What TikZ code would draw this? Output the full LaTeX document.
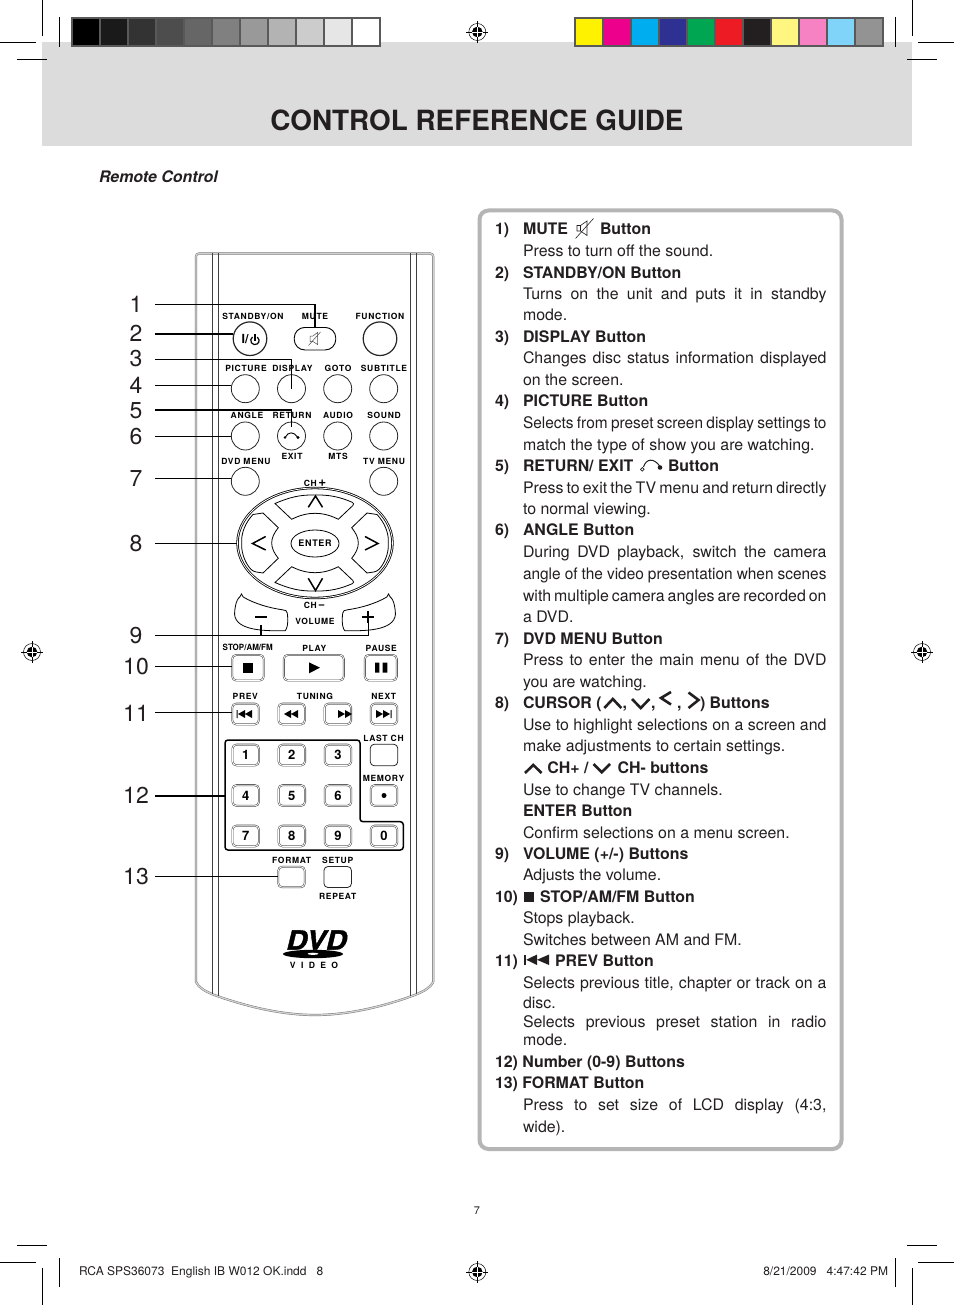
\documentclass[tikz,border=0pt]{standalone}
\usepackage{fontspec}
\setmainfont{TeX Gyre Heros}
\newfontfamily\remf[LetterSpace=8]{TeX Gyre Heros}
\newfontfamily\vidf[LetterSpace=62]{TeX Gyre Heros}
\newfontfamily\dvdf[FakeBold=1.4,FakeSlant=.22]{TeX Gyre Heros Bold}
\usetikzlibrary{shapes.geometric,calc}
\definecolor{ink}{HTML}{231F20}
\definecolor{band}{HTML}{DCDCDC}
\definecolor{barline}{HTML}{595959}
\definecolor{panel}{HTML}{B5B5B5}
\newcounter{lc}
\newcommand\rmk[1]{\fontsize{#1}{#1}\selectfont}
\tikzset{
 txt/.style={anchor=base west,inner sep=0pt,outer sep=0pt,text=ink,font=\rmk{15.9}},
 bold/.style={txt,font=\rmk{15.9}\bfseries},
 rlab/.style={inner sep=0pt,outer sep=0pt,yshift=-.7pt,font=\rmk{8.5}\bfseries\remf},
 numlab/.style={inner sep=0pt,outer sep=0pt,font=\rmk{23},text=ink},
 leader/.style={line width=1.4pt,draw=black},
 circ/.style={circle,draw=black!85,line width=.8pt,minimum size=28pt,inner sep=0pt,outer sep=0pt},
 bigcirc/.style={circ,line width=1.2pt,minimum size=33.6pt},
 dbtn/.style={rectangle,rounded corners=4pt,draw=black!70,line width=.55pt,double=white,double distance=.8pt,inner sep=0pt,outer sep=.5pt},
 numb/.style={dbtn,minimum width=26.5pt,minimum height=20.7pt,font=\rmk{13}\bfseries},
 chev/.style={line width=2.6pt,draw=ink,line join=miter},
 rchev/.style={line width=1.5pt,draw=black,line join=miter},
 crop/.style={line width=.7pt,draw=black},
 cell/.style={draw=barline,line width=2pt},
 rim/.style={draw=black!55,line width=.45pt,double=black!18,double distance=1.3pt},
 rail/.style={draw=black!75,line width=.8pt},
 dpad/.style={draw=black,line width=.8pt,rounded corners=3pt},
}
\newcommand\hdline[3]{\stepcounter{lc}\node[bold] (LN\arabic{lc}) at (495,#1+5.9) {#2};\stepcounter{lc}\node[bold] (LT\arabic{lc}) at (523,#1+5.9) {#3};}
\newcommand\hdat[3]{\stepcounter{lc}\node[bold] (LB\arabic{lc}) at (#2,#1+5.9) {#3};}
\newcommand\bdline[2]{\stepcounter{lc}\node[txt] (LP\arabic{lc}) at (523,#1+5.9) {#2};}
\newcommand\jsline[2]{\stepcounter{lc}\node[txt] (LJ\arabic{lc}) at (523,#1+5.9) {\hbox to 303.5pt{\spaceskip=.278em plus 1.2em minus .2em\relax #2}};}
\newcommand\jscond[2]{\stepcounter{lc}\node[txt] (LJ\arabic{lc}) at (523,#1+5.9) {\scalebox{.97}[1]{\hbox to 312.9pt{\spaceskip=.278em plus 1.2em minus .2em\relax #2}}};}
\newcommand\regmark[3]{%
 \node[circle,draw=black,line width=.5pt,minimum size=17pt,inner sep=0pt] (#1) at (#2,#3) {};
 \fill[black] (#1.center) circle (5.3pt);
 \draw[white,line width=.5pt] (#2-5.3,#3) -- (#2+5.3,#3) (#2,#3-5.3) -- (#2,#3+5.3);
 \draw[black,line width=.6pt] (#2-11,#3) -- (#2-5.3,#3) (#2+5.3,#3) -- (#2+11,#3) (#2,#3-11) -- (#2,#3-5.3) (#2,#3+5.3) -- (#2,#3+11);
}
\begin{document}
\begin{tikzpicture}[x=1pt,y=-1pt]
\useasboundingbox (0,0) rectangle (954,1305);
\fill[white] (0,0) rectangle (954,1305);
% band
\fill[band] (42,42) rectangle (912,146);
% crop marks
\draw[crop] (42.5,0) -- (42.5,36) (0,42.5) -- (36,42.5) (59.3,17) -- (59.3,47) (17,59.3) -- (47,59.3);
\draw[crop] (912.3,0) -- (912.3,36) (918,42.5) -- (954,42.5) (895.3,17) -- (895.3,47) (907,59.3) -- (937,59.3);
\draw[crop] (17,1245.5) -- (47,1245.5) (0,1262.5) -- (36,1262.5) (42.5,1268) -- (42.5,1305) (59.3,1258) -- (59.3,1287);
\draw[crop] (907,1245.5) -- (937,1245.5) (918,1262.5) -- (954,1262.5) (912.3,1268) -- (912.3,1305) (895.3,1258) -- (895.3,1287);
% colour bars
\foreach \c [count=\i from 0] in {000000,1A1A1A,333333,4D4D4D,666666,808080,999999,B3B3B3,CCCCCC,E6E6E6,FFFFFF}{
 \definecolor{cc}{HTML}{\c}
 \path[cell,fill=cc] (72+\i*28,18) rectangle (72+\i*28+28,46);
}
\foreach \c [count=\i from 0] in {FFF200,EC008C,00AEEF,2E3192,00A651,ED1C24,231F20,FFF681,F682C4,80D4F9,939393}{
 \definecolor{cc}{HTML}{\c}
 \path[cell,fill=cc] (575.3+\i*28,18) rectangle (575.3+\i*28+28,46);
}
\regmark{rt}{477.3}{32}
\regmark{rl}{32}{652}
\regmark{rr}{922}{652}
\regmark{rb}{477.3}{1272}
% titles
\node[inner sep=0pt,font=\rmk{27.85}\bfseries,text=ink,anchor=base] (title) at (477,131) {CONTROL REFERENCE GUIDE};
\node[txt,font=\rmk{15.9}\bfseries\itshape] (sub) at (99,183) {Remote Control};
\node[inner sep=0pt,font=\rmk{11},text=ink] (pg) at (477,1211) {7};
\node[txt,font=\rmk{12}] (foot1) at (79,1275.5) {RCA SPS36073\ \ English IB W012 OK.indd\ \ \ 8};
\node[txt,font=\rmk{12},anchor=base east] (foot2) at (888,1275.5) {8/21/2009\ \ \ 4:47:42 PM};
% panel
\draw[panel,line width=4pt,rounded corners=9pt] (479.5,210.5) rectangle (841.5,1149);
% panel text
\hdline{229}{1)}{MUTE}
\hdat{229}{600}{Button}
\begin{scope}[line width=.6pt,draw=ink]
 \draw[ink] (577,225.5) -- (580.5,225.5) -- (587,221) -- (587,235.5) -- (580.5,231) -- (577,231) -- cycle (580.5,225.5) -- (580.5,231);
 \draw[ink] (575.5,238.5) -- (593.5,218.5);
\end{scope}
\bdline{251}{Press to turn off the sound.}
\hdline{273}{2)}{STANDBY/ON Button}
\jsline{294}{Turns on the unit and puts it in standby}
\bdline{315}{mode.}
\hdline{337}{3)}{DISPLAY Button}
\jsline{358}{Changes disc status information displayed}
\bdline{380}{on the screen.}
\hdline{401}{4)}{PICTURE Button}
\jscond{423}{Selects from preset screen display settings to}
\bdline{445}{match the type of show you are watching.}
\hdline{466}{5)}{RETURN/ EXIT}
\hdat{466}{668}{Button}
\draw[ink,line width=1pt] (643.5,467) .. controls (646,458.5) and (654,457.5) .. (660,466.5);
\draw[ink,line width=.7pt] (642.3,469.3) circle (1.8pt);
\fill[ink] (660,467.5) circle (2.3pt);
\jsline{488}{Press to exit the TV menu and return directly}
\bdline{509}{to normal viewing.}
\hdline{530}{6)}{ANGLE Button}
\jsline{552}{During DVD playback, switch the camera}
\jscond{574}{angle of the video presentation when scenes}
\jsline{596}{with multiple camera angles are recorded on}
\bdline{617}{a DVD.}
\hdline{639}{7)}{DVD MENU Button}
\jsline{660}{Press to enter the main menu of the DVD}
\bdline{682}{you are watching.}
\hdline{703}{8)}{CURSOR (}
\hdat{703}{622.5}{,}
\hdat{703}{651}{,}
\hdat{703}{677}{,}
\hdat{703}{700}{) Buttons}
\draw[chev] (604.3,708) -- (612.8,699) -- (621.3,708);
\draw[chev] (632,699) -- (640.7,708) -- (649.5,699);
\draw[chev] (671,692) -- (661,698) -- (671,704.5);
\draw[chev] (688.5,692.5) -- (698.5,700) -- (688.5,708);
\jsline{725}{Use to highlight selections on a screen and}
\bdline{746}{make adjustments to certain settings.}
\draw[chev] (525,773) -- (533.3,765) -- (541.5,773);
\draw[chev] (593.5,764) -- (601.7,772.3) -- (610,764);
\hdat{768}{547.3}{CH+ /}
\hdat{768}{617.5}{CH- buttons}
\bdline{790}{Use to change TV channels.}
\hdat{811}{523}{ENTER Button}
\bdline{833}{Confirm selections on a menu screen.}
\hdline{854}{9)}{VOLUME (+/-) Buttons}
\bdline{875}{Adjusts the volume.}
\hdat{897}{495}{10)}
\fill[ink] (524.3,892) rectangle (534.3,902);
\hdat{897}{540}{STOP/AM/FM Button}
\bdline{918}{Stops playback.}
\bdline{940}{Switches between AM and FM.}
\hdat{961}{495}{11)}
\fill[ink] (524,954.5) rectangle (526.3,965);
\fill[ink] (526.3,959.8) -- (537,954.5) -- (537,965) -- cycle;
\fill[ink] (537,959.8) -- (549,954.5) -- (549,965) -- cycle;
\hdat{961}{555}{PREV Button}
\jsline{983}{Selects previous title, chapter or track on a}
\bdline{1003}{disc.}
\jsline{1022}{Selects previous preset station in radio}
\bdline{1040}{mode.}
\hdat{1062}{495}{12) Number (0-9) Buttons}
\hdat{1083}{495}{13) FORMAT Button}
\jsline{1105}{Press to set size of LCD display (4:3,}
\bdline{1127}{wide).}
% remote body
\draw[rim,rounded corners=3pt] (196,982) -- (196,253.5) -- (433.3,253.5) -- (433.3,982);
\draw[rim] (196,982) .. controls (199,988) and (205,991) .. (213,994.5) .. controls (250,1008) and (285,1015) .. (315,1015) .. controls (345,1015) and (380,1008) .. (416,994.5) .. controls (424,991) and (430,988) .. (433.3,982);
\draw[rail] (212.7,253) -- (212.7,994) (218.2,253) -- (218.2,996) (410.2,253) -- (410.2,996) (416.5,253) -- (416.5,994);
% row 1
\node[rlab] (lstand) at (253,316) {STANDBY/ON};
\node[rlab] (lmute) at (315,316) {MUTE};
\node[rlab] (lfunc) at (380,316) {FUNCTION};
\node[bigcirc] (bstand) at (250,338.7) {};
\node[draw=black,line width=.9pt,rounded corners=10.5pt,minimum width=41.5pt,minimum height=22.5pt,inner sep=0pt,outer sep=0pt] (bmute) at (315,338.7) {};
\node[bigcirc] (bfunc) at (380,338.7) {};
\node[inner sep=0pt,font=\rmk{12.5}\bfseries] (tio) at (245,339.5) {I/};
\draw[line width=1.2pt] (252.5,337) arc[start angle=125,end angle=415,radius=4.2pt];
\draw[line width=1.2pt] (254.9,334) -- (254.9,340.5);
\draw[black!70,line width=.5pt] (310,336) -- (313,336) -- (317.5,332.5) -- (317.5,344.5) -- (313,341.5) -- (310,341.5) -- cycle (308.5,345.5) -- (320.5,332);
% row 2
\node[rlab] (lpic) at (246,368) {PICTURE};
\node[rlab] (ldisp) at (292.5,368) {DISPLAY};
\node[rlab] (lgoto) at (338,368) {GOTO};
\node[rlab] (lsub) at (384,368) {SUBTITLE};
\node[circ] (bpic) at (245.3,388.7) {};
\node[circ] (bdisp) at (291.5,388.7) {};
\node[circ] (bgoto) at (337.7,388.7) {};
\node[circ] (bsub) at (383.7,388.7) {};
% row 3
\node[rlab] (lang) at (247,414.7) {ANGLE};
\node[rlab] (lret) at (292,414.7) {RETURN};
\node[rlab] (laud) at (338,414.7) {AUDIO};
\node[rlab] (lsou) at (384,414.7) {SOUND};
\node[circ] (bang) at (245.3,436) {};
\node[circ] (bret) at (291.5,436) {};
\node[circ] (baud) at (337.7,436) {};
\node[circ] (bsou) at (383.7,436) {};
\draw[line width=.9pt] (285.5,437) .. controls (288,431.5) and (294,431.5) .. (297.5,437);
\fill (285,437.5) circle (1.4pt) (298,437.5) circle (1.7pt);
\node[rlab] (lexit) at (292,456) {EXIT};
\node[rlab] (lmts) at (338,456) {MTS};
% row 4
\node[rlab] (ldvd) at (246,461) {DVD MENU};
\node[rlab] (ltv) at (384,461) {TV MENU};
\node[circ] (bdvd) at (245.3,481.3) {};
\node[circ] (btv) at (383.7,481.3) {};
% d-pad
\node[rlab,anchor=base] (lchp) at (315,486) {CH\,{\rmk{13.5}+}};
\node[ellipse,draw=black,line width=.8pt,double=white,double distance=.8pt,minimum width=155pt,minimum height=110pt,inner sep=0pt,outer sep=.8pt] (pad) at (315,543) {};
\draw[dpad] (275,503.5) .. controls (290,497) and (300,495) .. (315,495) .. controls (330,495) and (340,497) .. (355,503.5) [sharp corners] -- (338.3,519.3) .. controls (330,515) and (322,513.3) .. (315,513.3) .. controls (308,513.3) and (300,515) .. (291.7,519.3) -- cycle;
\draw[dpad] (275,582.5) .. controls (290,589) and (300,591) .. (315,591) .. controls (330,591) and (340,589) .. (355,582.5) [sharp corners] -- (338.3,566.7) .. controls (330,571) and (322,572.7) .. (315,572.7) .. controls (308,572.7) and (300,571) .. (291.7,566.7) -- cycle;
\draw[dpad] (253,514.5) .. controls (245,523) and (241.7,533) .. (241.7,543) .. controls (241.7,553) and (245,563) .. (253,571.5) [sharp corners] -- (263,573) -- (278.3,558.3) .. controls (274,553) and (271.7,548) .. (271.7,543) .. controls (271.7,538) and (274,533) .. (278.3,527.7) -- (263,513) -- cycle;
\draw[dpad] (377,514.5) .. controls (385,523) and (388.3,533) .. (388.3,543) .. controls (388.3,553) and (385,563) .. (377,571.5) [sharp corners] -- (367,573) -- (351.7,558.3) .. controls (356,553) and (358.3,548) .. (358.3,543) .. controls (358.3,538) and (356,533) .. (351.7,527.7) -- (367,513) -- cycle;
\node[ellipse,draw=black,line width=.8pt,minimum width=48pt,minimum height=27pt,inner sep=0pt,font=\rmk{9}\bfseries\remf] (benter) at (315,543.5) {ENTER};
\draw[rchev] (308.3,507.3) -- (315.5,496) -- (322.5,507.3);
\draw[rchev] (308.3,578.3) -- (315.5,590.5) -- (322.5,578.3);
\draw[rchev] (265.7,536.5) -- (252.5,543.5) -- (265.7,550);
\draw[rchev] (365,536.5) -- (378,543.5) -- (365,550);
\node[rlab,anchor=base] (lchm) at (314.5,607.5) {CH\,{\rmk{12}−}};
% volume
\draw[draw=black,line width=.8pt,rounded corners=2pt] (241.5,596) .. controls (255,604) and (270,608) .. (284,610) .. controls (287,611) and (287.7,614) .. (287.7,620) .. controls (287.7,626) and (286,630.7) .. (283,630.7) .. controls (262,631) and (232,630) .. (235,609) .. controls (236,602) and (238,598) .. (241.5,596) -- cycle;
\draw[draw=black,line width=.8pt,rounded corners=2pt] (388.5,596) .. controls (375,604) and (360,608) .. (346,610) .. controls (343,611) and (342.3,614) .. (342.3,620) .. controls (342.3,626) and (344,630.7) .. (347,630.7) .. controls (368,631) and (398,630) .. (395,609) .. controls (394,602) and (392,598) .. (388.5,596) -- cycle;
\coordinate (vminus) at (261,625);
\coordinate (vplus) at (368.3,617);
\draw[line width=2pt] (255,617) -- (267,617) (362.3,617) -- (374.3,617) (368.3,611) -- (368.3,623);
\node[rlab] (lvol) at (315,620.7) {VOLUME};
% play row
\node[rlab,font=\rmk{8.6}\bfseries,xscale=.93] (lstop) at (247.7,646.7) {STOP/AM/FM};
\node[rlab] (lplay) at (314.3,647.3) {PLAY};
\node[rlab] (lpause) at (381.3,647.3) {PAUSE};
\node[dbtn,minimum width=31.5pt,minimum height=25.5pt] (bstop) at (248,667.7) {};
\node[dbtn,minimum width=60pt,minimum height=25.5pt] (bplay) at (313.8,667.7) {};
\node[dbtn,minimum width=32pt,minimum height=25.5pt] (bpause) at (380.8,667.7) {};
\fill (243.3,662.7) rectangle (253.3,672.7);
\fill (309,662.3) -- (320,667.7) -- (309,673.3) -- cycle;
\fill (375,662.7) rectangle (379.3,672.7) (382.7,662.7) rectangle (387.3,672.7);
% prev row
\node[rlab] (lprev) at (245.3,696) {PREV};
\node[rlab] (ltun) at (315,696) {TUNING};
\node[rlab] (lnext) at (383.7,696) {NEXT};
\node[numb] (bprev) at (245.5,714) {};
\node[numb] (brew) at (291.7,714) {};
\node[numb] (bfwd) at (337.8,714) {};
\node[numb] (bnext) at (384,714) {};
\fill (236.5,710) rectangle (237.5,718) (238,714) -- (245,710) -- (245,718) -- cycle (245,714) -- (252,710) -- (252,718) -- cycle;
\fill (284,714) -- (291,710) -- (291,718) -- cycle (291,714) -- (298,710) -- (298,718) -- cycle;
\fill (345,714) -- (338,710) -- (338,718) -- cycle (352,714) -- (345,710) -- (345,718) -- cycle;
\fill (390.5,710) rectangle (391.5,718) (383,710) -- (390,714) -- (383,718) -- cycle (376,710) -- (383,714) -- (376,718) -- cycle;
% number block
\coordinate (blockw) at (225,795.5);
\draw[line width=1.5pt,rounded corners=3pt] (225,740) -- (360,740) -- (360,821.7) -- (403.3,821.7) -- (403.3,850) -- (225,850) -- cycle;
\foreach \n/\x/\y in {1/245.7/755,2/291.8/755,3/338/755,4/245.7/795.5,5/291.8/795.5,6/338/795.5,7/245.7/836,8/291.8/836,9/338/836,0/384/836}{
 \node[numb] (n\n) at (\x,\y) {\n};
}
\node[rlab] (llast) at (383.5,737.3) {LAST CH};
\node[rectangle,rounded corners=4pt,draw=black!85,line width=.8pt,minimum width=27.5pt,minimum height=21.5pt,inner sep=0pt] (blast) at (384,755) {};
\node[rlab] (lmem) at (383.5,777.3) {MEMORY};
\node[numb] (bmem) at (384,795.5) {};
\fill (bmem.center) circle (2.5pt);
% format row
\node[rlab] (lform) at (291.7,859.3) {FORMAT};
\node[rlab] (lset) at (337.7,859.3) {SETUP};
\node[numb,minimum height=20.5pt] (bform) at (291.5,877) {};
\node[rectangle,rounded corners=4pt,draw=black!85,line width=.8pt,minimum width=27.5pt,minimum height=21pt,inner sep=0pt] (bsetup) at (337.7,877) {};
\node[rlab] (lrep) at (337.7,895.3) {REPEAT};
% logo
\node[inner sep=0pt,font=\rmk{27}\dvdf,xscale=1.08,yscale=.98] (dvdt) at (315.5,940) {DVD};
\fill (313,954) ellipse (30pt and 4.2pt);
\fill[white] (313,953.8) ellipse (5.5pt and 1.1pt);
\node[inner sep=0pt,font=\rmk{8.6}\bfseries\vidf] (vid) at (314,965) {VIDEO};
% callout numbers
\foreach \n/\y in {1/304.5,2/333.5,3/358.5,4/385.5,5/410.5,6/436.5,7/478.5,8/543.5,9/635.5,10/666.5,11/713.5,12/795.5,13/876.5}{
 \node[numlab] (c\n) at (136,\y) {\n};
}
\coordinate (a1) at (155,304.7);\coordinate (a2) at (155,334);\coordinate (a3) at (155,359.3);\coordinate (a4) at (155,385.3);\coordinate (a5) at (155,410);\coordinate (a6) at (155,436.7);\coordinate (a7) at (155,478.7);\coordinate (a8) at (155,543.7);\coordinate (a9) at (155,635.7);\coordinate (a10) at (155,666.7);\coordinate (a11) at (155,712.7);\coordinate (a12) at (155,796);\coordinate (a13) at (155,876.7);
\draw[leader] (a1) -- (a1 -| bmute.north) -- (bmute.north);
\draw[leader] (a2) -- (a2 -| bstand.west);
\draw[leader] (a3) -- (a3 -| bdisp.center) -- (bdisp.center);
\draw[leader] (a4) -- (a4 -| bpic.west);
\draw[leader] (a5) -- (a5 -| bret.center) -- ($(bret.north)+(0,5)$);
\draw[leader] (a6) -- (a6 -| bang.west);
\draw[leader] (a7) -- (a7 -| bdvd.west);
\draw[leader] (a8) -- (a8 -| pad.west);
\draw[leader] (a9) -- (a9 -| vplus) -- (vplus);
\draw[leader] (vminus) -- (a9 -| vminus);
\draw[leader] (a10) -- (a10 -| bstop.west);
\draw[leader] (a11) -- (a11 -| bprev.west);
\draw[leader] (a12) -- (a12 -| blockw);
\draw[leader] (a13) -- (a13 -| bform.west);
\end{tikzpicture}
\end{document}
